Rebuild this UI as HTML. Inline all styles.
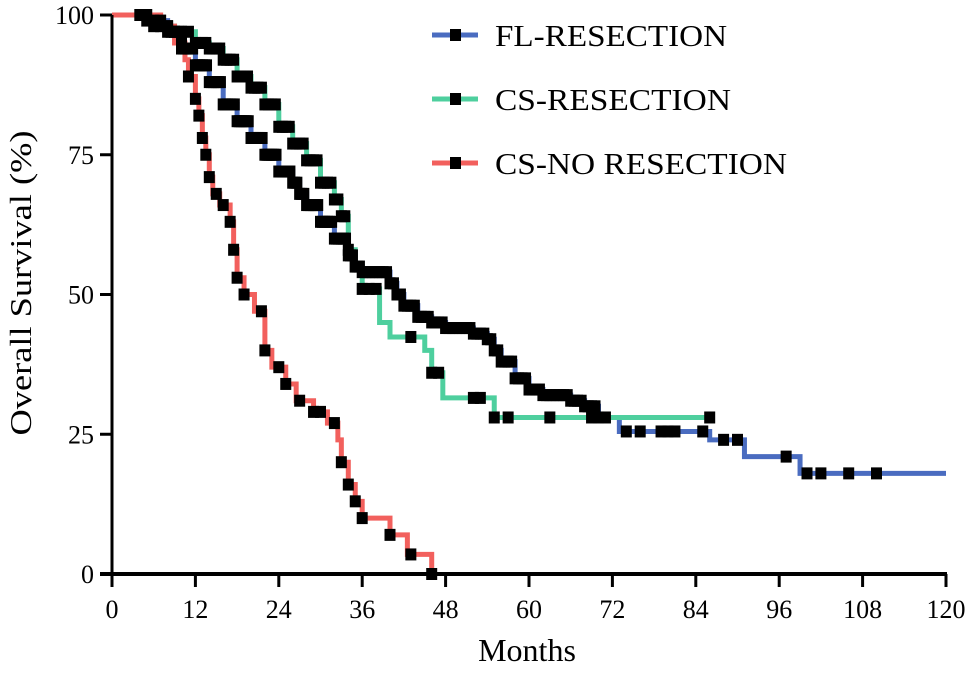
<!DOCTYPE html>
<html><head><meta charset="utf-8"><style>
body{margin:0;background:#fff}
svg text{font-family:"Liberation Serif",serif;fill:#000}
</style></head><body>
<svg id="chart" width="965" height="670" viewBox="0 0 965 670">
<g id="plot"></g>
<g id="axes"></g>
<g id="legend"></g>
</svg>
<script>
const xTicks=[0,12,24,36,48,60,72,84,96,108,120];
const yTicks=[0,25,50,75,100];
const seriesNames=["FL-RESECTION","CS-RESECTION","CS-NO RESECTION"];
const seriesColors=["#4a6cc0","#4ecf9e","#f2605d"];
const blueT=[0,5,8,10,12,14,16,18,20,22,24,26,27,28,30,32,34,35,36,40,41,42,44,46,48,52,54,55,56,58,60,62,66,68,70,73,86,91,99,120];
const blueS=[100,99,97,94,91,88,84,81,78,75,72,70,68,66,63,60,57,55,54,52,50,48,46,45,44,43,42,40,38,35,33,32,31,30,28,25.5,24,21,18,18];
const greenT=[0,6,9,12,14,16,18,20,22,24,26,28,30,32,33,34,35,36,38.5,40,45,46,47.6,55,86];
const greenS=[100,98,97,95,94,92,89,87,84,80,77,74,70,67,64,58,55,51,45,42.4,40,36,31.5,28,28];
const redT=[0,7,9,10.5,11,12,12.5,13,13.5,14,14.5,15.5,17,17.5,18,19,20.5,22,23,25,26.5,29,31,32.5,33,34,35,36,40,42.5,46];
const redS=[100,98,95,92,89,85,82,78,75,71,68,66,63,58,53,50,47,40,37,34,31,29,27,24,20,16,13,10,7,3.5,0];
const blueCens=[5,6,7,8,8.5,9,9.5,10,10.3,10.6,11,11.3,11.6,12,12.3,12.6,13,13.3,13.6,14,14.3,14.6,15,15.3,15.6,16,16.3,16.6,17,17.3,17.6,18,18.3,18.6,19,19.3,19.6,20,20.3,20.6,21,21.3,21.6,22,22.3,22.6,23,23.3,23.6,24,24.3,24.6,25,25.3,25.6,26,26.3,26.6,27,27.3,27.6,28,28.3,28.6,29,29.3,29.6,30,30.3,30.6,31,31.3,31.6,32,32.3,32.6,33,33.3,33.6,34,34.3,34.6,35,35.3,35.6,36,36.5,37,37.5,38,38.5,39,39.5,40,40.5,41,41.5,42,42.5,43,43.5,44,44.5,45,45.5,46,46.5,47,47.5,48,48.5,49,49.5,50,50.5,51,51.5,52,52.5,53,53.5,54,54.5,55,55.5,56,56.5,57,57.5,58,58.5,59,59.5,60,60.5,61,61.5,62,62.5,63,63.5,64,64.5,65,65.5,66,66.5,67,67.5,68,68.5,69,69.5,70,71,74,76,79,80,81,85,88,90,97,100,102,106,110];
const greenCens=[4,5,6,7,8,9,10,11,12,13,13.5,14,14.5,15,15.5,16,16.5,17,17.5,18,18.5,19,19.5,20,20.5,21,21.5,22,22.5,23,23.5,24,24.5,25,25.5,26,26.5,27,27.5,28,28.5,29,29.5,30,30.5,31,31.5,32,32.5,33,33.5,34,35,36,37,38,43,46,47,52,53,55,57,63,69,86];
const redCens=[8,10,11,12,12.5,13,13.5,14,15,16,17,17.5,18,19,21.5,22,24,25,27,29,30,32,33,34,35,36,40,43,46];

const NS="http://www.w3.org/2000/svg";
const x0=112,x1=946,yTop=15,yBot=574;
const X=m=>x0+(m/120)*(x1-x0);
const Y=p=>yBot-(p/100)*(yBot-yTop);
function mk(tag,attrs,parent){const e=document.createElementNS(NS,tag);for(const k in attrs)e.setAttribute(k,attrs[k]);parent.appendChild(e);return e;}
const plot=document.getElementById('plot'),axes=document.getElementById('axes'),legend=document.getElementById('legend');
function stepPath(T,S){let d="M"+X(T[0])+","+Y(S[0]);for(let i=1;i<T.length;i++){d+=" H"+X(T[i])+" V"+Y(S[i]);}return d;}
function valAt(T,S,t){let v=S[0];for(let i=0;i<T.length;i++){if(T[i]<=t)v=S[i];}return v;}
const all=[[blueT,blueS,blueCens],[greenT,greenS,greenCens],[redT,redS,redCens]];
all.forEach((s,i)=>{
  const p=mk('path',{d:stepPath(s[0],s[1]),fill:'none',stroke:seriesColors[i],'stroke-width':5},plot);
  
  
});
all.forEach((s,i)=>{
  s[2].forEach(t=>{
    const v=valAt(s[0],s[1],t);
    const r=mk('rect',{x:X(t)-5.5,y:Y(v)-6,width:11,height:12,fill:'#000'},plot);
    
    
  });
});
mk('line',{x1:x0,y1:yTop,x2:x0,y2:yBot+2,stroke:'#000','stroke-width':3},axes);
mk('line',{x1:x0-12,y1:yBot,x2:x1+1,y2:yBot,stroke:'#000','stroke-width':4},axes);
yTicks.forEach(v=>{
  mk('line',{x1:x0-12,y1:Y(v),x2:x0,y2:Y(v),stroke:'#000','stroke-width':3},axes);
  const t=mk('text',{x:x0-18,y:Y(v)+9,'text-anchor':'end','font-size':26},axes);t.textContent=v;
  
  
});
xTicks.forEach(v=>{
  mk('line',{x1:X(v),y1:yBot,x2:X(v),y2:yBot+13,stroke:'#000','stroke-width':3},axes);
  const t=mk('text',{x:X(v),y:618,'text-anchor':'middle','font-size':26},axes);t.textContent=v;
  
  
});
const xl=mk('text',{x:527,y:661,'text-anchor':'middle','font-size':32},axes);xl.textContent="Months";


const yl=mk('text',{x:0,y:0,'text-anchor':'middle','font-size':31,textLength:305,lengthAdjust:'spacingAndGlyphs',transform:'translate(31,283) rotate(-90)'},axes);yl.textContent="Overall Survival (%)";


const ly=[35,99,163];
const lw=[232,236,292];
seriesNames.forEach((n,i)=>{
  const g=mk('g',{},legend);
  
  
  mk('line',{x1:432,y1:ly[i],x2:478,y2:ly[i],stroke:seriesColors[i],'stroke-width':5},g);
  mk('rect',{x:450,y:ly[i]-6,width:11,height:12,fill:'#000'},g);
  const t=mk('text',{x:495,y:ly[i]+11,'font-size':31,textLength:lw[i],lengthAdjust:'spacingAndGlyphs'},g);t.textContent=n;
});
</script>
</body></html>
